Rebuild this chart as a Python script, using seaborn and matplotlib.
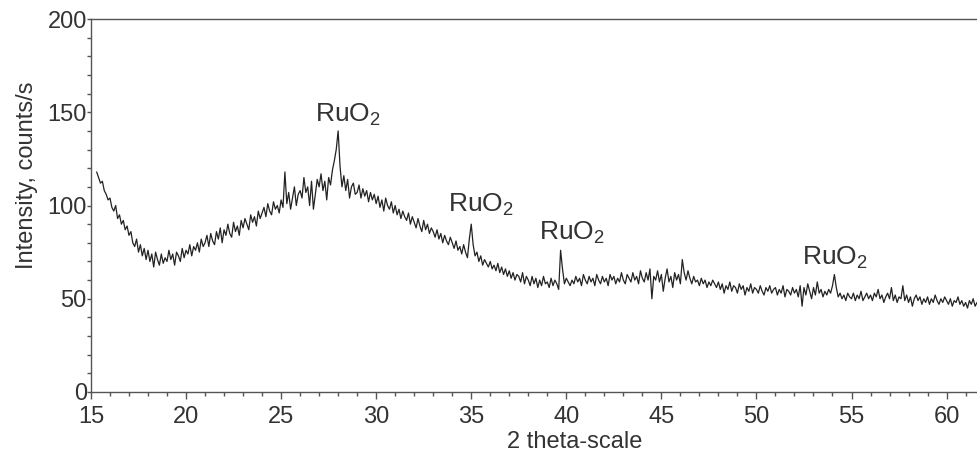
import numpy as np
import pandas as pd
import seaborn as sns
import matplotlib.pyplot as plt
from matplotlib.ticker import MultipleLocator

# XRD scan, 2 theta from 15.3 deg in 0.1 deg steps
two_theta_start = 15.3
two_theta_step = 0.1
intensity = [
    118, 115, 112, 113, 108, 106, 103,
    104, 99, 97, 100, 93, 95, 90, 92, 87, 89,
    84, 86, 80, 78, 82, 75, 79, 73, 77, 71,
    76, 70, 74, 67, 75, 71, 68, 74, 69, 72,
    70, 76, 71, 74, 68, 75, 73, 70, 77, 72,
    76, 74, 79, 73, 78, 76, 80, 75, 82, 78,
    80, 84, 78, 85, 81, 79, 86, 82, 88, 80,
    87, 84, 90, 85, 83, 91, 86, 89, 84, 92,
    88, 93, 90, 87, 95, 91, 94, 89, 97, 93,
    96, 99, 94, 101, 97, 95, 102, 98, 100, 96,
    103, 99, 118, 101, 107, 98, 104, 110, 100, 106,
    108, 104, 115, 107, 110, 100, 113, 98, 106, 114,
    110, 117, 108, 113, 103, 115, 111, 119, 124, 130,
    140, 121, 110, 116, 108, 114, 104, 110, 112, 106,
    107, 111, 104, 109, 105, 108, 102, 107, 103, 106,
    101, 105, 99, 103, 97, 104, 100, 98, 102, 96,
    100, 95, 98, 93, 97, 94, 92, 96, 90, 94,
    91, 88, 93, 89, 86, 92, 87, 90, 85, 88,
    86, 83, 87, 82, 85, 80, 84, 81, 79, 83,
    80, 77, 81, 76, 78, 74, 79, 75, 72, 82,
    90, 79, 73, 75, 70, 73, 68, 71, 69, 67,
    70, 66, 68, 65, 69, 64, 67, 63, 66, 62,
    65, 61, 64, 60, 63, 62, 59, 64, 58, 62,
    60, 57, 62, 58, 61, 56, 60, 57, 62, 58,
    59, 56, 61, 57, 60, 58, 55, 76, 66, 58,
    61, 59, 57, 60, 58, 62, 59, 61, 57, 63,
    60, 58, 62, 59, 61, 57, 63, 60, 58, 62,
    59, 61, 57, 63, 60, 62, 58, 61, 59, 64,
    60, 58, 63, 61, 59, 64, 60, 62, 58, 65,
    61, 59, 64, 60, 66, 50, 62, 60, 65, 59,
    63, 54, 61, 66, 59, 62, 56, 64, 60, 63,
    58, 71, 64, 60, 65, 61, 58, 62, 59, 60,
    57, 61, 58, 60, 56, 59, 57, 60, 58, 56,
    59, 55, 58, 53, 57, 55, 59, 54, 57, 56,
    53, 58, 55, 57, 52, 56, 54, 58, 53, 56,
    55, 53, 57, 54, 52, 56, 54, 57, 53, 55,
    56, 52, 55, 53, 57, 51, 55, 54, 52, 56,
    53, 55, 51, 57, 46, 56, 52, 58, 54, 50,
    56, 52, 59, 53, 55, 51, 54, 52, 55, 53,
    57, 63, 56, 51, 53, 50, 52, 49, 53, 51,
    50, 53, 49, 52, 50, 54, 49, 51, 53, 50,
    52, 49, 53, 51, 55, 50, 52, 48, 51, 53,
    50, 56, 49, 52, 48, 51, 50, 57, 49, 52,
    48, 51, 46, 50, 52, 49, 51, 47, 50, 48,
    51, 47, 50, 48, 52, 49, 47, 50, 48, 51,
    49, 47, 50, 46, 49, 48, 51, 47, 49, 46,
    48, 45, 49, 47, 50, 46, 48,
]

# peak labels: left edge x, baseline y
peak_label = "RuO$_2$"
peak_x = [26.78, 33.77, 38.55, 52.38]
peak_y = [145, 96.5, 81.5, 68]

two_theta = two_theta_start + two_theta_step * np.arange(len(intensity))
df = pd.DataFrame({"two_theta": two_theta, "intensity": intensity})

sns.set_style("ticks")
plt.rcParams["font.family"] = ["Liberation Sans", "DejaVu Sans"]
plt.rcParams["mathtext.fontset"] = "custom"
plt.rcParams["mathtext.rm"] = "Liberation Sans"
plt.rcParams["mathtext.it"] = "Liberation Sans"

ink = "#333333"

fig = plt.figure(figsize=(9.77, 4.54), dpi=100)
ax = fig.add_axes([0.0931, 0.1366, 0.9069, 0.8215])

sns.lineplot(data=df, x="two_theta", y="intensity", ax=ax,
             color="#222222", linewidth=0.9)

for x, y in zip(peak_x, peak_y):
    ax.text(x, y, peak_label, fontsize=19, color=ink, ha="left", va="baseline")

ax.set_xlim(15, 61.6)
ax.set_ylim(0, 200)
ax.xaxis.set_minor_locator(MultipleLocator(1))
ax.yaxis.set_major_locator(MultipleLocator(50))
ax.yaxis.set_minor_locator(MultipleLocator(10))
ax.set_xticks(range(15, 61, 5))

ax.tick_params(axis="both", which="both", direction="out", colors="#555555",
               labelcolor=ink, labelsize=17)
ax.tick_params(axis="x", which="major", length=5, width=1, pad=5)
ax.tick_params(axis="x", which="minor", length=3, width=1)
ax.tick_params(axis="y", which="major", length=3, width=1, pad=0)
ax.tick_params(axis="y", which="minor", length=3, width=1)

for side in ["left", "bottom", "top"]:
    ax.spines[side].set_color("#555555")
    ax.spines[side].set_linewidth(1)
ax.spines["right"].set_visible(False)

ax.set_xlabel("2 theta-scale", fontsize=17, color=ink)
ax.set_ylabel("Intensity, counts/s", fontsize=17, color=ink)
ax.xaxis.set_label_coords(0.546, -0.134)
ax.yaxis.set_label_coords(-0.072, 0.58)
ax.xaxis.label.set_va("center")
ax.yaxis.label.set_va("center")

fig.savefig("out.png", dpi=100)
